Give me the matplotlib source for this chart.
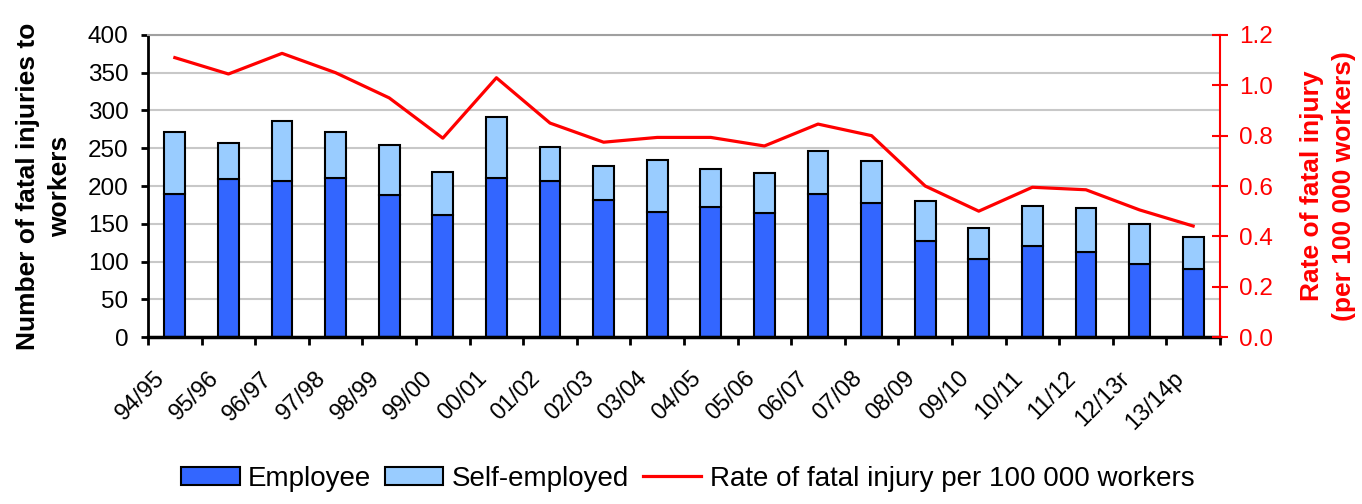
import matplotlib
matplotlib.use("Agg")
import matplotlib.pyplot as plt
import numpy as np

plt.rcParams['font.family'] = ['Liberation Sans', 'DejaVu Sans']

years = ["94/95", "95/96", "96/97", "97/98", "98/99", "99/00", "00/01", "01/02",
         "02/03", "03/04", "04/05", "05/06", "06/07", "07/08", "08/09", "09/10",
         "10/11", "11/12", "12/13r", "13/14p"]
employee = [190, 209, 206, 211, 188, 161, 211, 206, 182, 166, 172, 164, 190, 177,
            127, 103, 121, 113, 97, 90]
total = [272, 257, 286, 272, 254, 219, 291, 251, 227, 235, 222, 217, 246, 233,
         180, 145, 174, 171, 150, 132]
self_employed = [t - e for t, e in zip(total, employee)]
rate = [1.11, 1.045, 1.127, 1.05, 0.95, 0.79, 1.03, 0.85, 0.774, 0.793, 0.793,
        0.759, 0.846, 0.80, 0.60, 0.50, 0.595, 0.585, 0.505, 0.441]

x = np.arange(len(years))

fig = plt.figure(figsize=(13.62, 5.04), dpi=100)
ax = fig.add_axes([0.1087, 0.3313, 0.7870, 0.5993])
ax2 = ax.twinx()

ax.set_axisbelow(True)
ax.yaxis.grid(True, color="#c8c8c8", linewidth=1.5)
b1 = ax.bar(x, employee, width=0.39, color="#3366ff", edgecolor="black", linewidth=1.5, label="Employee")
b2 = ax.bar(x, self_employed, width=0.39, bottom=employee, color="#99ccff", edgecolor="black",
            linewidth=1.5, label="Self-employed")
l1, = ax2.plot(x, rate, color="red", linewidth=2.3, label="Rate of fatal injury per 100 000 workers")

ax.set_xlim(-0.5, len(years) - 0.5)
ax.set_ylim(0, 400)
ax.set_yticks(np.arange(0, 401, 50))
ax2.set_ylim(0, 1.2)
ax2.set_yticks(np.arange(0, 1.21, 0.2))
ax2.set_yticklabels(["%.1f" % v for v in np.arange(0, 1.21, 0.2)])

# year labels: rotated, sitting a little left of each bar
ax.set_xticks(x)
ax.set_xticklabels([])
for i, yr in enumerate(years):
    ax.annotate(yr, xy=(i, 0), xycoords=("data", "axes fraction"), xytext=(-15, -22),
                textcoords="offset points", rotation=45, ha="right", va="top",
                rotation_mode="anchor", fontsize=17, annotation_clip=False)
ax.set_xticks(np.arange(-0.5, len(years), 1), minor=True)
ax.tick_params(axis="x", which="major", length=0)
ax.tick_params(axis="x", which="minor", length=6, width=2, color="black")
ax.tick_params(axis="y", labelsize=17.5, length=5, width=2, pad=9, colors="black")
ax2.tick_params(axis="y", labelsize=17.5, length=12, width=1.5, direction="inout", pad=8,
                colors="red", labelcolor="red")

ax.spines["top"].set_color("#a0a0a0")
ax.spines["top"].set_linewidth(1.5)
ax2.spines["top"].set_visible(False)
ax.spines["left"].set_linewidth(2)
ax.spines["bottom"].set_linewidth(2.5)
ax2.spines["left"].set_visible(False)
ax2.spines["bottom"].set_visible(False)
ax2.spines["right"].set_color("red")
ax2.spines["right"].set_linewidth(1.5)
ax.spines["right"].set_visible(False)

ax.set_ylabel("Number of fatal injuries to\nworkers", fontsize=19, fontweight="bold", labelpad=11,
              linespacing=1.45)
ax2.set_ylabel("Rate of fatal injury\n(per 100 000 workers)", fontsize=19, fontweight="bold",
               color="red", labelpad=19, rotation=90, linespacing=1.45)

fig.legend([b1, b2, l1], [b1.get_label(), b2.get_label(), l1.get_label()],
           loc="lower center", bbox_to_anchor=(0.505, -0.025), ncol=3, frameon=False,
           fontsize=20, handlelength=2.1, handleheight=0.6, handletextpad=0.3,
           columnspacing=0.5)

fig.savefig("out.png", dpi=100)
